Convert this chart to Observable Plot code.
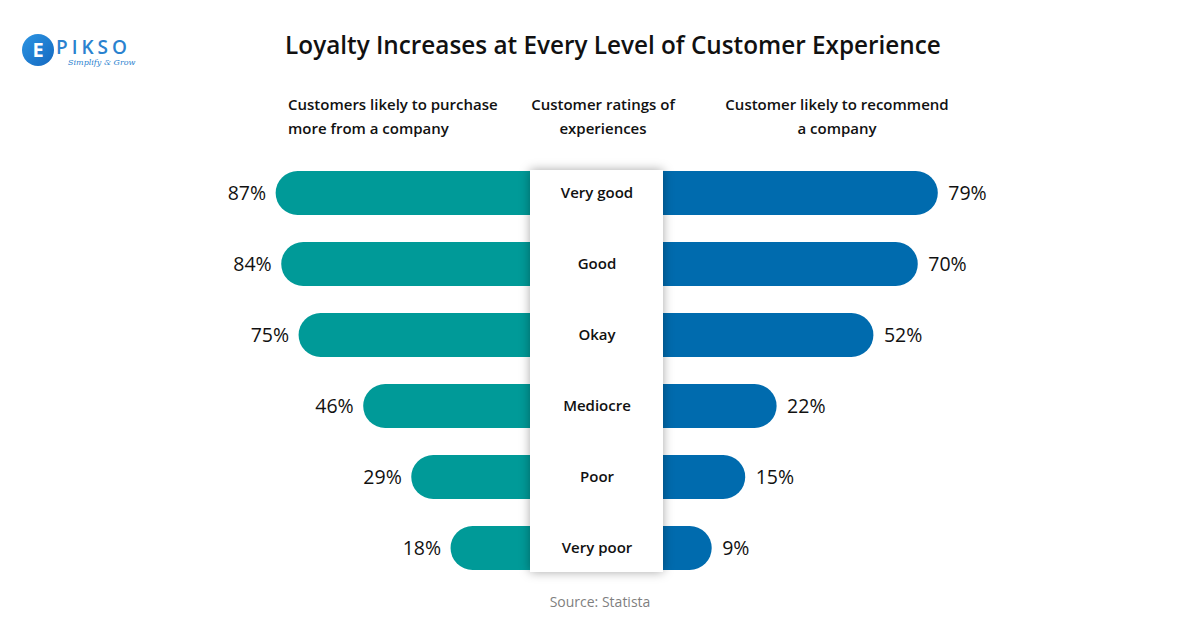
<!DOCTYPE html>
<html>
<head>
<meta charset="utf-8">
<script src="https://cdn.jsdelivr.net/npm/d3@7"></script>
<script src="https://cdn.jsdelivr.net/npm/@observablehq/plot@0.6"></script>
<style>
  html, body { margin: 0; padding: 0; background: #fff; }
  #root { position: relative; width: 1200px; height: 628px; overflow: hidden; font-family: "Open Sans", "Noto Sans", sans-serif; color: #111; }
  .abs { position: absolute; }
  .title { left: 613px; top: 29px; transform: translateX(-50%); font-size: 24.3px; font-weight: 600; white-space: nowrap; line-height: 32px; }
  .hdr { font-size: 15px; font-weight: 600; line-height: 24px; white-space: nowrap; }
  .src { left: 600px; top: 590px; transform: translateX(-50%); font-size: 14px; color: #7f7f7f; white-space: nowrap; line-height: 24px; }
  .logo-c { left: 22px; top: 34px; width: 32px; height: 32px; border-radius: 50%; background: linear-gradient(135deg, #2c95e3, #1468c0); color: #fff; font-weight: 700; font-size: 20px; line-height: 32px; text-align: center; }
  .logo-t { left: 56px; top: 35px; font-size: 19px; font-weight: 600; letter-spacing: 4px; color: #2a82cf; line-height: 24px; }
  .logo-s { left: 68px; top: 57px; font-size: 8px; font-style: italic; color: #2a82cf; line-height: 12px; font-family: "DejaVu Serif", serif; }
  svg { position: absolute; }
</style>
</head>
<body>
<div id="root">
  <div class="abs logo-c">E</div>
  <div class="abs logo-t">PIKSO</div>
  <div class="abs logo-s">Simplify &amp; Grow</div>
  <div class="abs title">Loyalty Increases at Every Level of Customer Experience</div>
  <div class="abs hdr" style="left:288px; top:92px; text-align:left;">Customers likely to purchase<br>more from a company</div>
  <div class="abs hdr" style="left:603px; top:92px; transform:translateX(-50%); text-align:center;">Customer ratings of<br>experiences</div>
  <div class="abs hdr" style="left:837px; top:92px; transform:translateX(-50%); text-align:center;">Customer likely to recommend<br>a company</div>
  <div class="abs src">Source: Statista</div>
</div>
<script>
const categories = ["Very good", "Good", "Okay", "Mediocre", "Poor", "Very poor"];
const purchaseMore = [87, 84, 75, 46, 29, 18];
const recommend = [79, 70, 52, 22, 15, 9];

const teal = "#009a98";
const blue = "#006bae";

const leftRows = categories.map((c, i) => ({c, v: purchaseMore[i]}));
const rightRows = categories.map((c, i) => ({c, v: recommend[i]}));

const center = 596.5;
const yScale = {type: "band", domain: categories, range: [142.5, 599], padding: 0.385, axis: null};

function side(rows, range, color, anchor, dx) {
  return Plot.plot({
    width: 1200, height: 628,
    marginTop: 0, marginBottom: 0, marginLeft: 0, marginRight: 0,
    x: {type: "sqrt", domain: [0, 100], range, axis: null},
    y: yScale,
    style: {background: "transparent", fontFamily: "Open Sans, Noto Sans, sans-serif", position: "absolute", left: "0px", top: "0px", overflow: "visible"},
    marks: [
      Plot.barX(rows, {x1: 0, x2: "v", y: "c", fill: color, rx: 22}),
      Plot.text(rows, {x: "v", y: "c", text: d => d.v + "%", textAnchor: anchor, dx, fontSize: 19.5, fill: "#111"})
    ]
  });
}

const root = document.getElementById("root");
root.appendChild(side(leftRows, [center, center - 344], teal, "end", -10));
root.appendChild(side(rightRows, [center, center + 384], blue, "start", 10));

const mid = Plot.plot({
  width: 133, height: 402,
  marginTop: 0, marginBottom: 0, marginLeft: 0, marginRight: 0,
  y: {type: "band", domain: categories, range: [-27.5, 429], padding: 0.385, axis: null},
  style: {background: "#fff", fontFamily: "Open Sans, Noto Sans, sans-serif", position: "absolute", left: "530px", top: "170px", overflow: "visible", boxShadow: "0 0 10px rgba(0,0,0,0.35)"},
  marks: [
    Plot.text(leftRows, {y: "c", text: "c", frameAnchor: "middle", fontSize: 15, fontWeight: 600, fill: "#111"})
  ]
});
root.appendChild(mid);
</script>
</body>
</html>
